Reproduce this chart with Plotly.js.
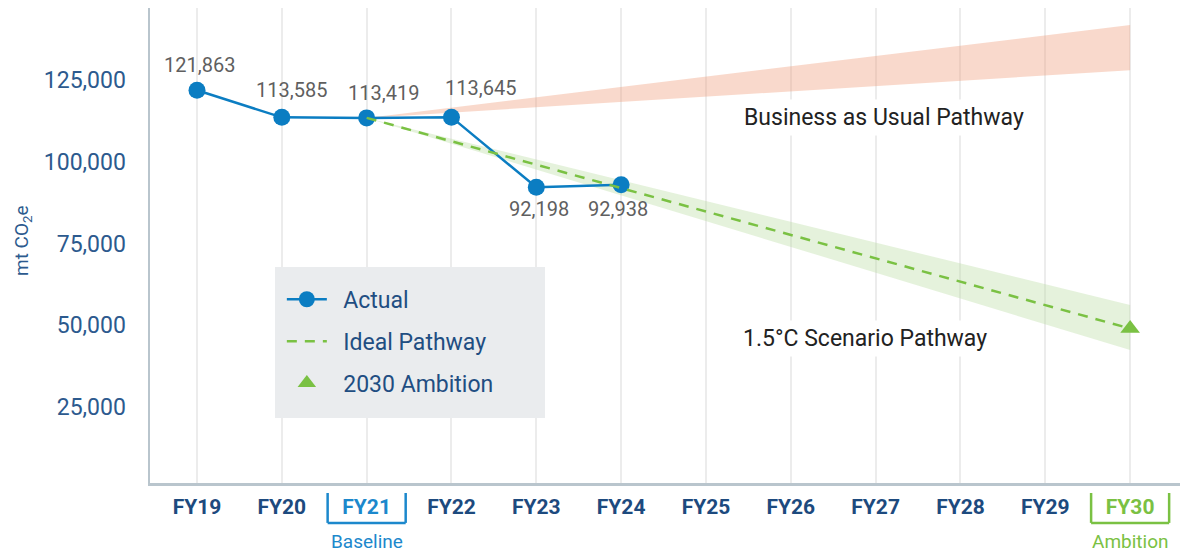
<!DOCTYPE html>
<html>
<head>
<meta charset="utf-8">
<script src="https://cdn.plot.ly/plotly-3.0.1.min.js"></script>
<style>
  html, body { margin: 0; padding: 0; background: #ffffff; }
  #chart { width: 1190px; height: 555px; }
</style>
</head>
<body>
<div id="chart"></div>
<script>
// ---------- data ----------
const categories = ['FY19','FY20','FY21','FY22','FY23','FY24','FY25','FY26','FY27','FY28','FY29','FY30'];
const actualYears = ['FY19','FY20','FY21','FY22','FY23','FY24'];
const actualValues = [121863, 113585, 113419, 113645, 92198, 92938];
const idealYears = ['FY21','FY30'];
const idealValues = [113419, 49000];
const ambitionYears = ['FY30'];
const ambitionValues = [49000];
const bandYears = ['FY21','FY30','FY30'];
const bauBand = [113419, 141800, 128000];
const scenarioBand = [113419, 56200, 42400];
const yTickValues = [25000, 50000, 75000, 100000, 125000];
const baselineYear = 'FY21';
const ambitionYear = 'FY30';

// ---------- styling ----------
const FONT = 'Roboto, "Liberation Sans", Arial, sans-serif';
const BLUE = '#0b7dc2';
const GREEN = '#7ac143';
const NAVY = '#1d4a7e';
const AXIS_BLUE = '#2c5a8e';
const BASE_BLUE = '#1c88cc';

const fmt = v => v.toLocaleString('en-US');
const pad = s => '\u00a0\u00a0' + s;

const traces = [
  { x: bandYears, y: bauBand, type: 'scatter', mode: 'lines', fill: 'toself',
    fillcolor: 'rgba(240,160,128,0.40)', line: { width: 0, color: 'rgba(0,0,0,0)' },
    showlegend: false, hoverinfo: 'skip' },
  { x: bandYears, y: scenarioBand, type: 'scatter', mode: 'lines', fill: 'toself',
    fillcolor: 'rgba(190,222,168,0.40)', line: { width: 0, color: 'rgba(0,0,0,0)' },
    showlegend: false, hoverinfo: 'skip' },
  { x: actualYears, y: actualValues, type: 'scatter', mode: 'lines+markers', name: pad('Actual'),
    legendgroup: 'a',
    line: { color: BLUE, width: 2.5 }, marker: { color: BLUE, size: 17 } },
  { x: idealYears, y: idealValues, type: 'scatter', mode: 'lines', name: pad('Ideal Pathway'),
    legendgroup: 'b',
    line: { color: GREEN, width: 2.5, dash: '10px,8px' } },
  { x: ambitionYears, y: ambitionValues, type: 'scatter', mode: 'markers', name: pad('2030 Ambition'),
    legendgroup: 'c',
    marker: { color: GREEN, size: 17, symbol: 'triangle-up' } }
];

// data-label offsets (pixels) – style only
const labelShift = [[2,-25],[10,-27],[17,-25],[29,-29],[3,22],[-3,24]];
const annotations = actualYears.map((yr, i) => ({
  x: categories.indexOf(yr), y: actualValues[i], xref: 'x', yref: 'y',
  xanchor: 'center', yanchor: 'middle',
  text: fmt(actualValues[i]), showarrow: false,
  xshift: labelShift[i][0], yshift: -labelShift[i][1],
  font: { family: FONT, size: 20, color: '#5f5f5f' }
}));

annotations.push(
  { xref: 'paper', yref: 'paper', x: 0.7126, y: 0.7705, xanchor: 'center', yanchor: 'middle',
    showarrow: false,
    text: 'Business as Usual Pathway', bgcolor: '#ffffff', borderpad: 4,
    font: { family: FONT, size: 23, color: '#222222' } },
  { xref: 'paper', yref: 'paper', x: 0.694, y: 0.305, xanchor: 'center', yanchor: 'middle',
    showarrow: false,
    text: '1.5°C Scenario Pathway', bgcolor: '#ffffff', borderpad: 4,
    font: { family: FONT, size: 23, color: '#222222' } },
  { xref: 'x', yref: 'paper', x: categories.indexOf(baselineYear), y: -0.124,
    xanchor: 'center', yanchor: 'middle', showarrow: false,
    text: 'Baseline', font: { family: FONT, size: 19, color: BASE_BLUE } },
  { xref: 'x', yref: 'paper', x: categories.indexOf(ambitionYear), y: -0.124,
    xanchor: 'center', yanchor: 'middle', showarrow: false,
    text: 'Ambition', font: { family: FONT, size: 19, color: GREEN } },
  { xref: 'paper', yref: 'paper', x: -0.124, y: 0.51, xanchor: 'center', yanchor: 'middle',
    showarrow: false, textangle: -90,
    text: 'mt CO<sub>2</sub>e', font: { family: FONT, size: 19, color: AXIS_BLUE } }
);

function bracket(cat, color) {
  const c = categories.indexOf(cat);
  const x0 = c - 0.46, x1 = c + 0.46, yt = -0.021, yb = -0.084;
  const ln = { color: color, width: 2.5 };
  return [
    { type: 'line', xref: 'x', yref: 'paper', x0: x0, x1: x0, y0: yt, y1: yb, line: ln },
    { type: 'line', xref: 'x', yref: 'paper', x0: x0, x1: x1, y0: yb, y1: yb, line: ln },
    { type: 'line', xref: 'x', yref: 'paper', x0: x1, x1: x1, y0: yt, y1: yb, line: ln }
  ];
}

const shapes = [
  { type: 'rect', xref: 'paper', yref: 'paper', x0: 0.1214, x1: 0.3835, y0: 0.1368, y1: 0.4547,
    fillcolor: '#eaecee', line: { width: 0 }, layer: 'above' },
  ...bracket(baselineYear, BASE_BLUE),
  ...bracket(ambitionYear, GREEN)
];

const tickText = categories.map(c => {
  if (c === baselineYear) return '<b><span style="color:' + BASE_BLUE + '">' + c + '</span></b>';
  if (c === ambitionYear) return '<b><span style="color:' + GREEN + '">' + c + '</span></b>';
  return '<b>' + c + '</b>';
});

const layout = {
  width: 1190, height: 555,
  margin: { l: 150, r: 10, t: 8, b: 72 },
  paper_bgcolor: '#ffffff', plot_bgcolor: '#ffffff',
  font: { family: FONT },
  showlegend: true,
  legend: {
    x: 0.128, y: 0.432, xanchor: 'left', yanchor: 'top',
    bgcolor: 'rgba(0,0,0,0)', traceorder: 'grouped', tracegroupgap: 9,
    itemwidth: 40,
    font: { family: FONT, size: 23, color: '#1f4e82' }
  },
  xaxis: {
    type: 'category', categoryorder: 'array', categoryarray: categories,
    range: [-0.554, 11.588],
    tickmode: 'array', tickvals: categories, ticktext: tickText,
    tickfont: { family: FONT, size: 21, color: NAVY },
    showgrid: true, gridcolor: '#ececec', gridwidth: 2,
    showline: true, linecolor: '#b9c5cd', linewidth: 2.5,
    ticks: '', ticklabelstandoff: 3, zeroline: false, fixedrange: true
  },
  yaxis: {
    range: [1760, 147020],
    tickmode: 'array', tickvals: yTickValues, ticktext: yTickValues.map(fmt),
    tickfont: { family: FONT, size: 23, color: AXIS_BLUE },
    showgrid: false, zeroline: false,
    showline: true, linecolor: '#b9c5cd', linewidth: 2.5,
    ticks: '', ticklabelstandoff: 17, fixedrange: true
  },
  annotations: annotations,
  shapes: shapes
};

Plotly.newPlot('chart', traces, layout, { displayModeBar: false, staticPlot: true });
</script>
</body>
</html>
